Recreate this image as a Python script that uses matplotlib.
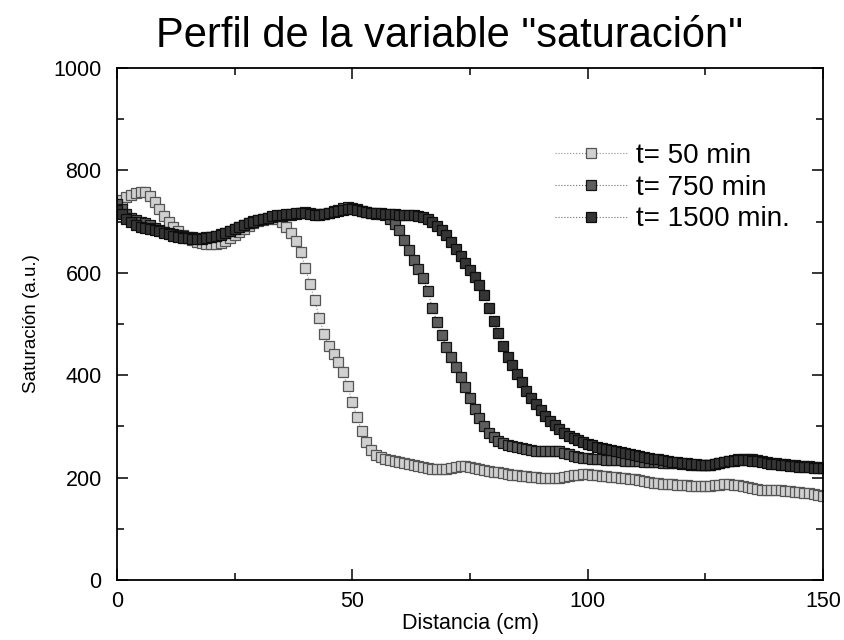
import numpy as np
import matplotlib
matplotlib.use("Agg")
import matplotlib.pyplot as plt
from matplotlib.ticker import MultipleLocator

plt.rcParams['font.family'] = ['Liberation Sans', 'DejaVu Sans']

# distance samples (cm), one reading per cm
dist = list(range(0, 151))

sat_50 = [
    735, 742, 748, 752, 756, 758, 757, 750, 738, 724,
    710, 700, 690, 681, 674, 668, 664, 661, 659, 657,
    656, 657, 659, 663, 668, 674, 680, 686, 692, 697,
    701, 704, 706, 707, 705, 700, 690, 678, 663, 640,
    610, 578, 546, 512, 480, 458, 442, 426, 406, 378,
    348, 318, 291, 269, 254, 245, 240, 237, 235, 233,
    231, 229, 227, 224, 222, 220, 218, 217, 216, 216,
    217, 219, 221, 222, 222, 221, 219, 216, 214, 212,
    211, 210, 209, 208, 206, 205, 204, 203, 202, 201,
    200, 199, 199, 199, 200, 201, 203, 205, 206, 207,
    207, 206, 205, 204, 203, 202, 201, 200, 199, 198,
    197, 196, 194, 192, 190, 189, 188, 187, 187, 186,
    186, 185, 184, 183, 183, 183, 184, 185, 186, 187,
    187, 186, 185, 183, 181, 179, 177, 176, 175, 175,
    175, 175, 174, 173, 172, 171, 170, 169, 168, 166,
    164,
]

sat_750 = [
    735, 725, 715, 708, 703, 700, 697, 693, 688, 684,
    680, 677, 675, 673, 671, 670, 669, 668, 668, 669,
    670, 672, 675, 678, 682, 686, 690, 694, 698, 701,
    704, 706, 708, 709, 710, 711, 712, 713, 715, 717,
    718, 717, 715, 714, 715, 717, 720, 723, 726, 728,
    727, 724, 721, 718, 716, 715, 714, 712, 706, 696,
    684, 665, 645, 625, 607, 590, 565, 532, 503, 478,
    456, 436, 416, 396, 377, 356, 334, 316, 300, 288,
    279, 272, 267, 264, 262, 259, 257, 255, 253, 252,
    251, 251, 252, 252, 251, 249, 246, 243, 241, 239,
    238, 237, 236, 236, 235, 235, 234, 234, 233, 233,
    232, 232, 231, 231, 230, 230, 229, 229, 228, 228,
    227, 226, 225, 224, 224, 224, 225, 227, 229, 231,
    233, 235, 236, 237, 237, 236, 235, 233, 231, 229,
    228, 227, 226, 225, 224, 223, 222, 222, 221, 220,
    219,
]

sat_1500 = [
    722, 714, 706, 699, 694, 690, 688, 686, 684, 681,
    678, 675, 672, 670, 668, 667, 666, 666, 666, 667,
    669, 671, 674, 677, 681, 685, 689, 693, 697, 700,
    703, 706, 708, 710, 712, 713, 714, 715, 716, 717,
    716, 714, 713, 713, 714, 716, 718, 721, 723, 724,
    724, 722, 720, 718, 717, 716, 716, 715, 715, 714,
    713, 712, 712, 712, 711, 709, 705, 699, 692, 683,
    673, 661, 647, 633, 620, 606, 592, 576, 556, 531,
    505, 482, 458, 436, 420, 403, 386, 370, 356, 344,
    332, 321, 311, 302, 295, 288, 282, 277, 273, 269,
    266, 263, 260, 258, 256, 254, 252, 250, 248, 246,
    244, 243, 241, 239, 237, 236, 234, 233, 231, 230,
    229, 228, 227, 226, 225, 225, 225, 226, 228, 230,
    232, 233, 234, 234, 234, 233, 232, 230, 229, 227,
    226, 225, 224, 223, 222, 221, 220, 220, 219, 219,
    218,
]

labels = ['t= 50 min', 't= 750 min', 't= 1500 min.']

fig = plt.figure(figsize=(8.44, 6.4), dpi=100)
ax = fig.add_axes([117 / 844, 60 / 640, 706 / 844, 512 / 640])

styles = [
    dict(mfc='#d0d0d0', mec='#555555', color='#8a8a8a'),
    dict(mfc='#5e5e5e', mec='#151515', color='#6a6a6a'),
    dict(mfc='#353535', mec='#0d0d0d', color='#6a6a6a'),
]

for ys, lab, st in zip([sat_50, sat_750, sat_1500], labels, styles):
    ax.plot(dist, ys, linestyle=':', linewidth=0.8, marker='s', markersize=6.5,
            markeredgewidth=0.9, label=lab, **st)

ax.set_xlim(0, 150)
ax.set_ylim(0, 1000)
ax.xaxis.set_major_locator(MultipleLocator(50))
ax.xaxis.set_minor_locator(MultipleLocator(25))
ax.yaxis.set_major_locator(MultipleLocator(200))
ax.yaxis.set_minor_locator(MultipleLocator(100))
ax.tick_params(which='both', direction='in', top=True, right=True,
               width=1.1, labelsize=15.5)
ax.tick_params(axis='x', pad=8)
ax.tick_params(axis='y', pad=11)
ax.tick_params(which='major', length=8)
ax.tick_params(which='minor', length=5)
for sp in ax.spines.values():
    sp.set_linewidth(1.3)

ax.set_xlabel('Distancia (cm)', fontsize=15.5, labelpad=1)
ax.set_ylabel('Saturación (a.u.)', fontsize=13.5, labelpad=10)

fig.text(450 / 844, 1 - 36 / 640, 'Perfil de la variable "saturación"',
         fontsize=30, ha='center', va='center')

ax.legend(loc='upper right', bbox_to_anchor=(0.988, 0.902), frameon=False,
          fontsize=20, handlelength=2.6, handletextpad=0.3, labelspacing=0.2,
          numpoints=1)

fig.savefig('out.png', dpi=100)
